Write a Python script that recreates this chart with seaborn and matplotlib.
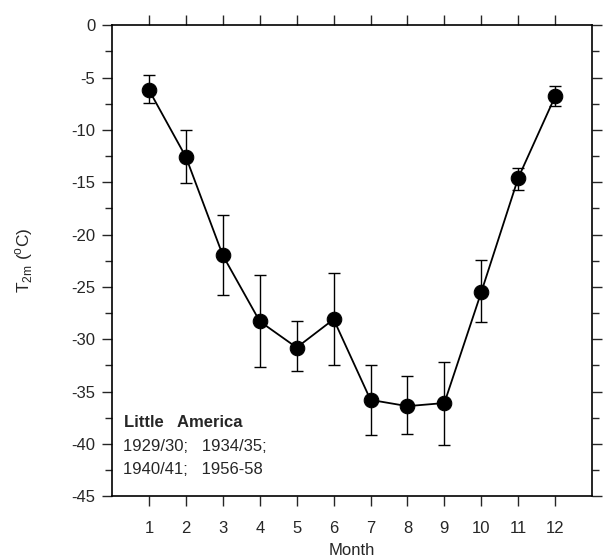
"""
Monthly mean 2 m temperature at Little America with error bars.
"""

import matplotlib
matplotlib.use("Agg")
import matplotlib.pyplot as plt
import numpy as np
import pandas as pd
import seaborn as sns

months = [1, 2, 3, 4, 5, 6, 7, 8, 9, 10, 11, 12]
t2m = [-6.2, -12.6, -22.0, -28.3, -30.8, -28.1, -35.8, -36.4, -36.1, -25.5, -14.6, -6.8]
err_top = [-4.8, -10.0, -18.1, -23.9, -28.3, -23.7, -32.5, -33.5, -32.2, -22.4, -13.6, -5.8]
err_bottom = [-7.45, -15.1, -25.8, -32.7, -33.0, -32.5, -39.2, -39.1, -40.1, -28.4, -15.7, -7.7]

station_title = "Little   America"
station_years = ["1929/30;   1934/35;", "1940/41;   1956-58"]

sns.set_style("ticks")
plt.rcParams["font.family"] = ["Liberation Sans", "DejaVu Sans"]
plt.rcParams["axes.unicode_minus"] = False

df = pd.DataFrame({"month": months, "t2m": t2m})

fig = plt.figure(figsize=(6.06, 5.6), dpi=100)
ax = fig.add_axes([0.185, 0.114, 0.792, 0.841])

# asymmetric error bars first, then the line with markers on top
lower = np.array(t2m) - np.array(err_bottom)
upper = np.array(err_top) - np.array(t2m)
ax.errorbar(months, t2m, yerr=[lower, upper], fmt="none", ecolor="black",
            elinewidth=1.0, capsize=4, capthick=1.0, zorder=2)
sns.lineplot(data=df, x="month", y="t2m", ax=ax, color="black", linewidth=1.3,
             marker="o", markersize=10.5, markeredgecolor="black", zorder=3)

ax.set_xlim(0, 13)
ax.set_ylim(-45, 0)
ax.set_xticks(months)
ax.set_yticks(np.arange(-45, 1, 5))
ax.set_yticks(np.arange(-42.5, 0, 5), minor=True)
ax.tick_params(axis="both", which="major", direction="out", length=7, width=1.0,
               labelsize=12, top=True, right=True, pad=5)
ax.tick_params(axis="y", which="minor", direction="out", length=5, width=1.0,
               right=True, left=True)
ax.tick_params(axis="x", which="major", labelsize=12, pad=11)

for spine in ax.spines.values():
    spine.set_linewidth(1.2)
    spine.set_color("black")

ax.set_xlabel("Month", fontsize=12, labelpad=5)
ax.set_ylabel("T$_{\\mathregular{2m}}$ ($^{\\mathregular{o}}$C)", fontsize=12.5)
ax.yaxis.set_label_coords(-0.16, 0.5)

ax.text(0.33, -38.0, station_title, fontsize=12, fontweight="bold", va="center")
ax.text(0.3, -40.3, station_years[0], fontsize=12, va="center")
ax.text(0.3, -42.5, station_years[1], fontsize=12, va="center")

plt.savefig("out.png", dpi=100)
